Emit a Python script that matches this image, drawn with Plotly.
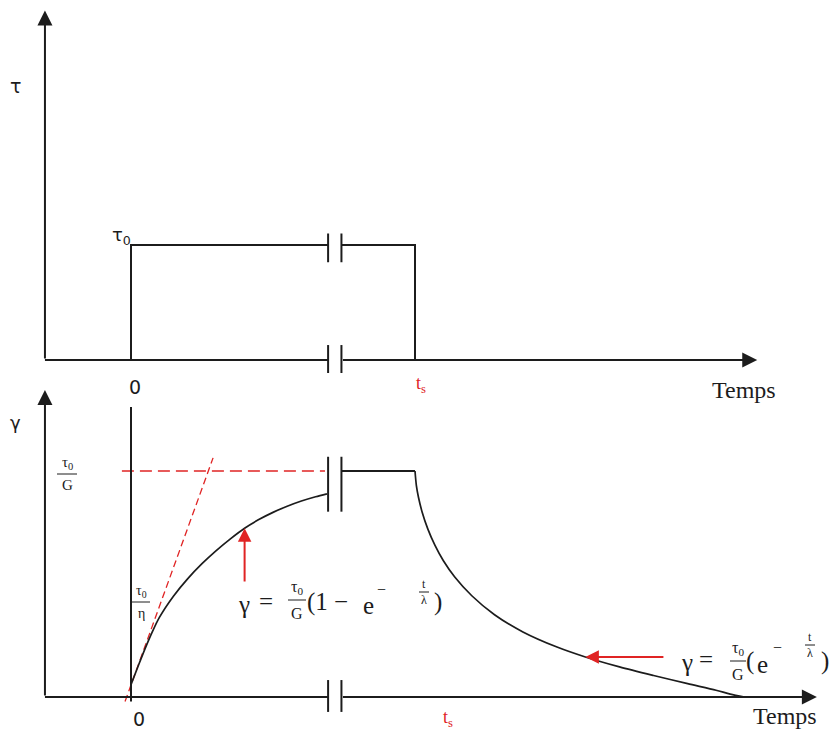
import plotly.graph_objects as go

W, H = 833, 731
BLACK = "#1c1c1c"
RED = "#e02424"
SERIF = "Liberation Serif"
SANS = "DejaVu Sans"

# ---- time axis (schematic units): load on at t = 0, off at t = ts ----
t_axis_start = -3.03
t_load = 0.0
t_s = 10.0
t_break = [6.94, 7.41]
t_top_end = 22.05
t_bot_end = 24.15

# ---- applied stress, in units of tau0 ----
stress_t_a = [t_load, t_load, t_break[0]]
stress_v_a = [0.0, 1.0, 1.0]
stress_t_b = [t_break[1], t_s, t_s]
stress_v_b = [1.0, 1.0, 0.0]
tau_axis_top = 3.04

# ---- strain response, in units of tau0/G ----
creep_t = [0.0, 0.25, 0.5, 0.75, 1.0, 1.5, 2.0, 2.5, 3.0, 3.5, 4.0, 4.5,
           5.0, 5.5, 6.0, 6.5, 6.9]
creep_g = [0.055, 0.136, 0.215, 0.288, 0.352, 0.447, 0.524, 0.590, 0.648,
           0.700, 0.747, 0.785, 0.817, 0.844, 0.867, 0.886, 0.899]

hold_t = [t_break[1], t_s]
hold_g = [1.0, 1.0]

recov_t = [10.0, 10.05, 10.12, 10.25, 10.45, 10.7, 11.0, 11.4, 12.0, 12.8,
           13.8, 15.0, 16.0, 17.2, 18.4, 19.6, 20.6, 21.1, 21.6]
recov_g = [1.0, 0.934, 0.885, 0.819, 0.744, 0.672, 0.603, 0.531, 0.448,
           0.364, 0.288, 0.221, 0.177, 0.133, 0.095, 0.059, 0.030, 0.013, 0.0]

asym_t = [-0.32, 6.83]
asym_g = [1.0, 1.0]
slope_t = [-0.21, 2.89]
slope_g = [-0.02, 1.058]

gamma_axis_top = 1.358
gamma_load_line = [-0.02, 1.283]

# scales: 28.4 px per time unit, t = 0 at x = 131 px
PX_T = 28.4
X_RANGE = [-131 / PX_T, (W - 131) / PX_T]
# stress: 115 px per tau0, zero at y = 360 px
Y1_RANGE = [(360 - H) / 115, 360 / 115]
# strain: 226 px per tau0/G, zero at y = 697 px
Y2_RANGE = [(697 - H) / 226, 697 / 226]

fig = go.Figure()


def line(xs, ys, yaxis="y", color=BLACK, width=2, dash=None, shape="linear"):
    fig.add_trace(go.Scatter(
        x=xs, y=ys, yaxis=yaxis, mode="lines", hoverinfo="skip",
        line=dict(color=color, width=width, dash=dash, shape=shape, smoothing=0.8),
    ))


# stress history
line(stress_t_a, stress_v_a)
line(stress_t_b, stress_v_b)
line([t_axis_start, t_break[0]], [0, 0])

# strain history
line(asym_t, asym_g, "y2", RED, 1.6, "12px,6px")
line(slope_t, slope_g, "y2", RED, 1.3, "7px,4px")
line([t_load, t_load], gamma_load_line, "y2")
line(creep_t, creep_g, "y2", BLACK, 1.7, shape="spline")
line(hold_t, hold_g, "y2")
line(recov_t, recov_g, "y2", BLACK, 1.7, shape="spline")
line([t_axis_start, t_break[0]], [0, 0], "y2")

annotations = []
shapes = []


def arrow(x0, y0, x1, y1, yref, color=BLACK, width=2, size=1.5):
    annotations.append(dict(
        x=x1, y=y1, ax=x0, ay=y0, xref="x", yref=yref, axref="x", ayref=yref,
        text="", showarrow=True, arrowhead=2, arrowsize=size,
        arrowwidth=width, arrowcolor=color,
    ))


# axes with arrow heads
arrow(t_axis_start, 0, t_axis_start, tau_axis_top, "y")
arrow(t_break[1], 0, t_top_end, 0, "y")
arrow(t_axis_start, 0, t_axis_start, gamma_axis_top, "y2")
arrow(t_break[1], 0, t_bot_end, 0, "y2")

# pointers to the two strain curves
arrow(creep_t[10], 0.504, creep_t[10], creep_g[10], "y2", RED, 2, 1.35)
arrow(18.8, recov_g[12], recov_t[12], recov_g[12], "y2", RED, 2, 1.35)

# axis breaks (pairs of short bars)
for yref, spans in (("y", [(0.85, 1.10), (-0.113, 0.13)]),
                    ("y2", [(0.82, 1.063), (-0.066, 0.075)])):
    for lo, hi in spans:
        for tb in t_break:
            shapes.append(dict(type="line", xref="x", yref=yref, x0=tb, x1=tb,
                               y0=lo, y1=hi, line=dict(color=BLACK, width=2)))


def text(s, x, y, size=18, color=BLACK, family=SERIF, xanchor="center"):
    annotations.append(dict(
        text=s, x=x / W, y=1 - y / H, xref="paper", yref="paper",
        showarrow=False, xanchor=xanchor, yanchor="middle",
        font=dict(size=size, color=color, family=family),
    ))


def bar(x0, x1, y, color=BLACK, width=1):
    shapes.append(dict(type="line", xref="paper", yref="paper",
                       x0=x0 / W, x1=x1 / W, y0=1 - y / H, y1=1 - y / H,
                       line=dict(color=color, width=width)))


def frac(num, den, x, y, size, gap, half):
    text(num, x, y - gap, size)
    bar(x - half, x + half, y)
    text(den, x, y + gap, size)


# axis labels
text("τ", 16, 86, 19, family=SANS)
text("τ<sub>0</sub>", 121, 236, 18, family=SANS)
text("0", 135, 387, 19, family=SANS)
text("Temps", 744, 390, 24)
text("t<sub>s</sub>", 421, 384, 18, RED)

text("γ", 16, 423, 18, family=SANS)
text("0", 139, 719, 19, family=SANS)
text("Temps", 785, 716, 24)
text("t<sub>s</sub>", 448, 718, 18, RED)

frac("τ<sub>0</sub>", "G", 67, 474, 15, 11, 10)
frac("τ<sub>0</sub>", "η", 141, 602, 14, 11, 9)

# creep equation
text("γ", 244, 604, 25)
text("=", 266, 601, 25)
frac("τ<sub>0</sub>", "G", 297, 600, 16, 13, 9)
text("(1 −", 305, 602, 25, xanchor="left")
text("e", 368, 605, 25)
text("−", 381, 589, 16)
frac("t", "λ", 424, 592, 12, 8, 5)
text(")", 438, 602, 25)

# recovery equation
text("γ", 687, 662, 25)
text("=", 706, 659, 25)
frac("τ<sub>0</sub>", "G", 738, 661, 16, 13, 8)
text("(", 750, 661, 25)
text("e", 762, 664, 25)
text("−", 777, 647, 16)
frac("t", "λ", 810, 645, 12, 8, 5)
text(")", 825, 661, 25)

fig.update_layout(
    width=W, height=H,
    margin=dict(l=0, r=0, t=0, b=0),
    paper_bgcolor="white", plot_bgcolor="white",
    showlegend=False,
    xaxis=dict(range=X_RANGE, visible=False, fixedrange=True),
    yaxis=dict(range=Y1_RANGE, visible=False, fixedrange=True),
    yaxis2=dict(range=Y2_RANGE, visible=False, fixedrange=True,
                overlaying="y"),
    annotations=annotations,
    shapes=shapes,
)

fig.write_html("out.html")
